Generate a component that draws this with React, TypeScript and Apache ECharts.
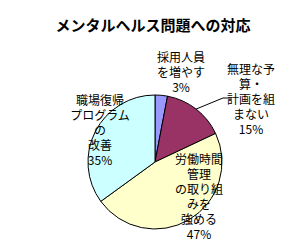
import React, { useEffect, useRef } from 'react';
import * as echarts from 'echarts';

const chartTitle = 'メンタルヘルス問題への対応';
const categories = [
  '採用人員を増やす',
  '無理な予算・計画を組まない',
  '労働時間管理の取り組みを強める',
  '職場復帰プログラムの改善',
];
const values = [3, 15, 47, 35];
const labelBreaks = [
  ['採用人員', 'を増やす'],
  ['無理な予', '算・', '計画を組', 'まない'],
  ['労働時間', '管理', 'の取り組', 'みを', '強める'],
  ['職場復帰', 'プログラム', 'の', '改善'],
];
const colors = ['#9999FF', '#993366', '#FFFFCC', '#CCFFFF'];

const FONT = '"Noto Sans CJK JP", "Noto Sans", sans-serif';
const labelPos: number[][] = [
  [181, 71],
  [251, 98],
  [199, 196],
  [100, 129],
];

export default function App() {
  const ref = useRef<HTMLDivElement>(null);
  useEffect(() => {
    if (!ref.current) return;
    const chart = echarts.init(ref.current, null, { renderer: 'svg' });
    chart.setOption({
      animation: false,
      backgroundColor: '#ffffff',
      title: {
        text: chartTitle,
        left: 'center',
        top: 12,
        textStyle: { fontFamily: FONT, fontSize: 15, fontWeight: 'bold', color: '#000' },
      },
      series: [
        {
          type: 'pie',
          center: [155, 162],
          radius: 67,
          startAngle: 90,
          clockwise: true,
          avoidLabelOverlap: false,
          itemStyle: { borderColor: '#000', borderWidth: 1 },
          emphasis: { disabled: true },
          label: {
            show: true,
            position: 'outside',
            fontFamily: FONT,
            fontSize: 12,
            lineHeight: 15,
            color: '#000',
            formatter: (p: any) => [...labelBreaks[p.dataIndex], `${values[p.dataIndex]}%`].join('\n'),
          },
          labelLine: { show: false, lineStyle: { color: '#000', width: 1 } },
          labelLayout: (p: any) => {
            const i = p.dataIndex;
            const out: any = { x: labelPos[i][0], y: labelPos[i][1], align: 'center', verticalAlign: 'middle' };
            if (i === 1 && p.labelLinePoints && p.labelLinePoints[0]) {
              const s = p.labelLinePoints[0];
              out.labelLinePoints = [[s[0], s[1]], [223, 98], [232, 98]];
            }
            return out;
          },
          data: categories.map((name, i) => ({
            name,
            value: values[i],
            itemStyle: { color: colors[i] },
            labelLine: { show: i === 1 },
          })),
        },
      ],
    });
    return () => chart.dispose();
  }, []);
  return <div ref={ref} style={{ position: 'fixed', left: 0, top: 0, width: 306, height: 251 }} />;
}
